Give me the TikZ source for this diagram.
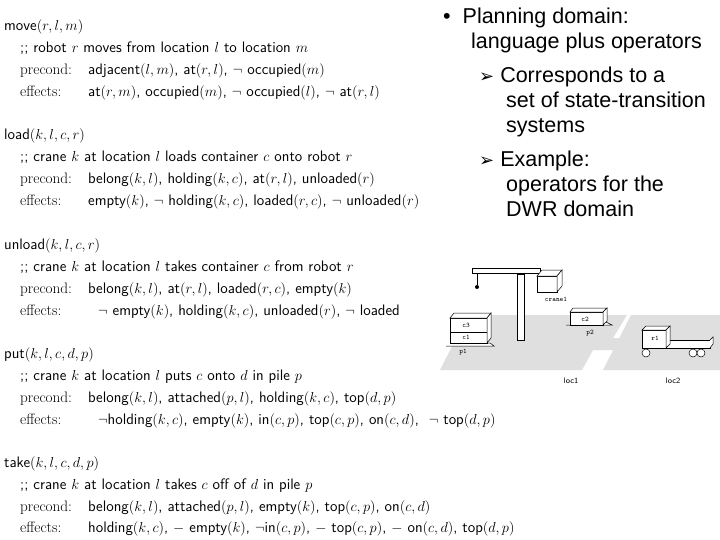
\documentclass[tikz,border=0pt]{standalone}
\usepackage{fontspec}
\newfontfamily\arial{Liberation Sans}
\newfontfamily\djfont{DejaVu Sans}
\begin{document}
\begin{tikzpicture}[x=1pt,y=-1pt,
  ln/.style={anchor=base west,inner sep=0pt,font=\fontsize{15.2}{18}\sffamily},
  bl/.style={anchor=base west,inner sep=0pt,font=\fontsize{21.5}{24}\arial},
  lab/.style={inner sep=0pt,font=\fontsize{7}{8}\ttfamily},
  box/.style={draw=black,fill=white,line width=0.5pt}]
\useasboundingbox (0,0) rectangle (720,540);
\newcommand\kw[1]{\makebox[68pt][l]{\textrm{#1}}}
% move
\node[ln] (m1) at (4,31) {move$(r,l,m)$};
\node[ln] (m2) at (20,53) {;; robot $r$ moves from location $l$ to location $m$};
\node[ln] (m3) at (20,75) {\kw{precond:}adjacent$(l,m)$, at$(r,l)$, $\neg$ occupied$(m)$};
\node[ln] (m4) at (20,97) {\kw{effects:}at$(r,m)$, occupied$(m)$, $\neg$ occupied$(l)$, $\neg$ at$(r,l)$};
% load
\node[ln] (l1) at (4,140) {load$(k,l,c,r)$};
\node[ln] (l2) at (20,162) {;; crane $k$ at location $l$ loads container $c$ onto robot $r$};
\node[ln] (l3) at (20,184) {\kw{precond:}belong$(k,l)$, holding$(k,c)$, at$(r,l)$, unloaded$(r)$};
\node[ln] (l4) at (20,206) {\kw{effects:}empty$(k)$, $\neg$ holding$(k,c)$, loaded$(r,c)$, $\neg$ unloaded$(r)$};
% unload
\node[ln] (u1) at (4,249) {unload$(k,l,c,r)$};
\node[ln] (u2) at (20,271) {;; crane $k$ at location $l$ takes container $c$ from robot $r$};
\node[ln] (u3) at (20,293) {\kw{precond:}belong$(k,l)$, at$(r,l)$, loaded$(r,c)$, empty$(k)$};
\node[ln] (u4) at (20,315) {\kw{effects:}\ \ $\neg$ empty$(k)$, holding$(k,c)$, unloaded$(r)$, $\neg$ loaded};
% put
\node[ln] (p1) at (4,358) {put$(k,l,c,d,p)$};
\node[ln] (p2) at (20,380) {;; crane $k$ at location $l$ puts $c$ onto $d$ in pile $p$};
\node[ln] (p3) at (20,402) {\kw{precond:}belong$(k,l)$, attached$(p,l)$, holding$(k,c)$, top$(d,p)$};
\node[ln] (p4) at (20,424) {\kw{effects:}\ \ $\neg$holding$(k,c)$, empty$(k)$, in$(c,p)$, top$(c,p)$, on$(c,d)$, \ $\neg$ top$(d,p)$};
% take
\node[ln] (t1) at (4,467) {take$(k,l,c,d,p)$};
\node[ln] (t2) at (20,489) {;; crane $k$ at location $l$ takes $c$ off of $d$ in pile $p$};
\node[ln] (t3) at (20,511) {\kw{precond:}belong$(k,l)$, attached$(p,l)$, empty$(k)$, top$(c,p)$, on$(c,d)$};
\node[ln] (t4) at (20,532) {\kw{effects:}holding$(k,c)$, $-$ empty$(k)$, $\neg$in$(c,p)$, $-$ top$(c,p)$, $-$ on$(c,d)$, top$(d,p)$};
% bullets
\node[bl] (b1) at (443,24) {\textbullet\ \ Planning domain:};
\node[bl] (b2) at (471,49) {language plus operators};
\node[bl] (b3) at (479,83) {{\djfont\fontsize{18}{20}\selectfont ➢}\ Corresponds to a};
\node[bl] (b4) at (506,108) {set of state-transition};
\node[bl] (b5) at (506,133) {systems};
\node[bl] (b6) at (479,167) {{\djfont\fontsize{18}{20}\selectfont ➢}\ Example:};
\node[bl] (b7) at (506,192) {operators for the};
\node[bl] (b8) at (506,217) {DWR domain};
% DWR picture
\fill[white] (438,258) rectangle (720,390);
\fill[gray!25] (440,370) -- (468,315) -- (627,315) -- (613,338) -- (640,338) -- (633,350) -- (593,350) -- (582,370) -- cycle;
\fill[gray!25] (603,370) -- (631,315) -- (720,315) -- (720,370) -- cycle;
% crane
\draw[box] (517,274) rectangle (524,340);
\draw[box] (472,268) -- (540,268) -- (540,273) -- (472,273) -- cycle;
\draw (477,273) -- (477,285);
\fill (477,287) circle (2);
\draw[box] (537,276) rectangle (557,292);
\draw[box] (537,276) -- (542,270) -- (562,270) -- (557,276) -- cycle;
\draw[box] (557,276) -- (562,270) -- (562,286) -- (557,292) -- cycle;
\node[lab] (cr) at (556,299) {crane1};
% pile p1
\draw[box] (446,346) -- (494,346) -- (490,343) -- (450,343);
\draw[box] (450,318) rectangle (487,343);
\draw (450,332) -- (487,332);
\draw[box] (450,318) -- (454,313) -- (491,313) -- (487,318) -- cycle;
\draw[box] (487,318) -- (491,313) -- (491,338) -- (487,343) -- cycle;
\node[lab] (c3) at (466,325) {c3};
\node[lab] (c1) at (466,337) {c1};
\node[lab] (pp1) at (463,352) {p1};
% pile p2
\draw[box] (566,325) -- (612,325) -- (606,322);
\draw[box] (570,312) rectangle (603,325);
\draw[box] (570,312) -- (573,308) -- (607,308) -- (603,312) -- cycle;
\draw[box] (603,312) -- (607,308) -- (607,321) -- (603,325) -- cycle;
\node[lab] (c2) at (585,319) {c2};
\node[lab] (pp2) at (590,333) {p2};
% robot
\draw[box] (642,340) rectangle (710,348);
\draw[box] (710,348) -- (713,344) -- (713,337) -- (710,340);
\draw[box] (642,330) rectangle (666,348);
\draw[box] (642,330) -- (646,326) -- (670,326) -- (666,330) -- cycle;
\draw[box] (666,330) -- (670,326) -- (670,344) -- (666,348) -- cycle;
\node[lab] (r1) at (655,338) {r1};
\draw[box] (646,353) circle (4);
\draw[box] (693,353) circle (4);
\draw[box] (701,353) circle (4);
\node[lab,font=\fontsize{8}{9}\sffamily] (loc1) at (571,381) {loc1};
\node[lab,font=\fontsize{8}{9}\sffamily] (loc2) at (673,381) {loc2};
\end{tikzpicture}
\end{document}
